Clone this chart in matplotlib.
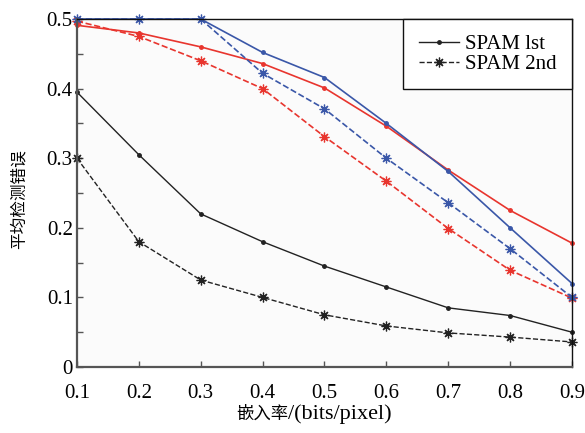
import matplotlib.pyplot as plt
import numpy as np

rates = [0.1, 0.2, 0.3, 0.4, 0.5, 0.6, 0.7, 0.8, 0.9]

black_1st = [0.395, 0.305, 0.22, 0.18, 0.145, 0.115, 0.085, 0.074, 0.05]
black_2nd = [0.30, 0.18, 0.125, 0.10, 0.075, 0.059, 0.049, 0.043, 0.036]
red_1st = [0.491, 0.48, 0.46, 0.436, 0.401, 0.346, 0.283, 0.225, 0.178]
red_2nd = [0.497, 0.475, 0.44, 0.40, 0.331, 0.267, 0.199, 0.139, 0.099]
blue_1st = [0.5, 0.5, 0.5, 0.452, 0.416, 0.35, 0.281, 0.20, 0.12]
blue_2nd = [0.5, 0.5, 0.5, 0.422, 0.371, 0.30, 0.236, 0.17, 0.10]

legend_labels = ['SPAM lst', 'SPAM 2nd']

fonts = ['Liberation Serif', 'Noto Sans CJK SC']
plt.rcParams['font.family'] = fonts

fig = plt.figure(figsize=(5.85, 4.33), dpi=100)
ax = fig.add_axes([0.1316, 0.1524, 0.9778 - 0.1316, 0.956 - 0.1524])
ax.set_facecolor('#fbfbfb')

asterisk = (8, 2, 0)
black = '#222222'
red = '#e8352e'
blue = '#3a57a8'

ax.plot(rates, black_1st, '-', color=black, lw=1.0, marker='o', ms=2.5, clip_on=False, label=legend_labels[0])
ax.plot(rates, black_2nd, '--', color=black, lw=1.0, marker=asterisk, ms=7, mew=0.9, clip_on=False, label=legend_labels[1])
ax.plot(rates, red_1st, '-', color=red, lw=1.2, marker='o', ms=2.5, clip_on=False)
ax.plot(rates, red_2nd, '--', color=red, lw=1.2, marker=asterisk, ms=7, mew=0.9, clip_on=False)
ax.plot(rates, blue_1st, '-', color=blue, lw=1.2, marker='o', ms=2.5, clip_on=False)
ax.plot(rates, blue_2nd, '--', color=blue, lw=1.2, marker=asterisk, ms=7, mew=0.9, clip_on=False)

ax.set_xlim(0.1, 0.9)
ax.set_ylim(0, 0.5)
ax.set_xticks(rates)
ax.set_xticklabels(['%.1f' % r for r in rates])
ax.set_yticks([0, 0.1, 0.2, 0.3, 0.4, 0.5])
ax.set_yticklabels(['0', '0.1', '0.2', '0.3', '0.4', '0.5'])
ax.set_yticks(np.arange(0.05, 0.5, 0.1), minor=True)
ax.tick_params(axis='both', which='both', direction='in', length=4, width=1, color='#555555',
               labelsize=15, top=False, right=False)
ax.tick_params(axis='x', pad=12)
ax.tick_params(axis='y', pad=3)

for side in ['left', 'bottom']:
    ax.spines[side].set_linewidth(1.6)
    ax.spines[side].set_color('#555555')
for side in ['top', 'right']:
    ax.spines[side].set_linewidth(1.0)
    ax.spines[side].set_color('#111111')

# y label
ax.set_ylabel('平均检测错误', fontsize=12, family='Noto Sans CJK SC')
ax.yaxis.set_label_coords(-0.10, 0.483)

# x label in two pieces: Chinese part and Latin part
fig.text(288 / 585, 1 - 419 / 433, '嵌入率', fontsize=12.5, family='Noto Sans CJK SC',
         ha='right', va='baseline')
fig.text(288 / 585, 1 - 419 / 433, '/(bits/pixel)', fontsize=16, family='Liberation Serif',
         ha='left', va='baseline')

leg = ax.legend(loc='upper right', fontsize=15, frameon=True, fancybox=False,
                borderaxespad=0, handlelength=1.9, borderpad=0.75, labelspacing=0.0,
                handletextpad=0.3)
leg.get_frame().set_edgecolor('#111111')
leg.get_frame().set_linewidth(1.0)
leg.get_frame().set_facecolor('white')
leg.get_frame().set_alpha(1)

fig.savefig('out.png', dpi=100)
